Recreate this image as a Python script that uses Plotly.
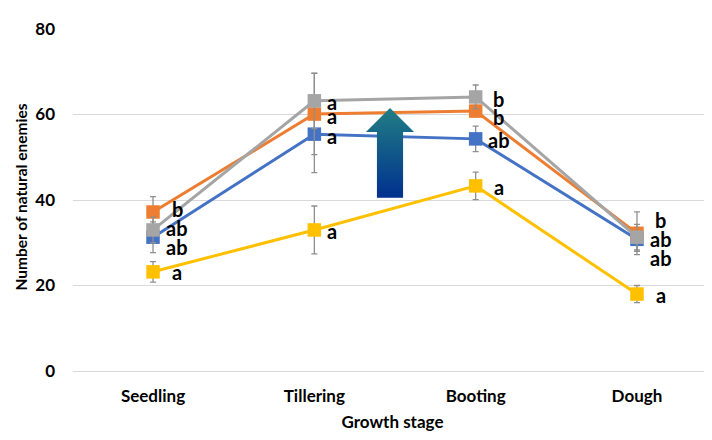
import plotly.graph_objects as go

stages = ["Seedling", "Tillering", "Booting", "Dough"]

blue_vals = [31.3, 55.4, 54.3, 30.8]
orange_vals = [37.2, 60.1, 60.8, 32.2]
gray_vals = [33.0, 63.2, 64.1, 31.3]
yellow_vals = [23.2, 33.0, 43.3, 18.0]

blue_err = [3.6, 9.0, 3.0, 2.8]
orange_err = [3.6, 9.5, 1.3, 5.0]
gray_err = [3.0, 6.5, 2.8, 3.0]
yellow_err = [2.4, 5.6, 3.2, 2.0]

blue_letters = ["ab", "a", "ab", "ab"]
orange_letters = ["b", "a", "b", "b"]
gray_letters = ["ab", "a", "b", "ab"]
yellow_letters = ["a", "a", "a", "a"]

y_ticks = [0, 20, 40, 60, 80]

# label offsets in pixels (style)
blue_shift = [-10, -2, -1, -19]
orange_shift = [3, -2, -6, 13]
gray_shift = [2, -1, -2, -2]
yellow_shift = [0, -1, -1, -1]
x_shift = [24, 18, 23, 24]

xs = list(range(len(stages)))

FONT = "Lato"
ERR_COLOR = "#8f8f8f"

W, H = 704, 432
ML, MR, MT, MB = 65, 0, 21, 69

fig = go.Figure()

def add_series(vals, err, color):
    fig.add_trace(go.Scatter(
        x=xs, y=vals, mode="lines+markers",
        line=dict(color=color, width=3),
        marker=dict(symbol="square", size=13.5, color=color),
        error_y=dict(type="data", array=err, visible=True, color=ERR_COLOR,
                     thickness=1.3, width=3),
        cliponaxis=False, showlegend=False, hoverinfo="skip",
    ))

add_series(blue_vals, blue_err, "#4472C4")
add_series(orange_vals, orange_err, "#ED7D31")
add_series(gray_vals, gray_err, "#A5A5A5")
add_series(yellow_vals, yellow_err, "#FFC000")

# gradient arrow (decorative)
arrow_x = [1.388, 1.388, 1.32, 1.469, 1.618, 1.55, 1.55, 1.388]
arrow_y = [40.5, 55.9, 55.9, 61.5, 55.9, 55.9, 40.5, 40.5]
fig.add_trace(go.Scatter(
    x=arrow_x, y=arrow_y, mode="lines", fill="toself",
    line=dict(width=0, color="rgba(0,0,0,0)"),
    fillgradient=dict(type="vertical",
                      colorscale=[[0, "#00308F"], [1, "#217E84"]],
                      start=40.5, stop=61.5),
    showlegend=False, hoverinfo="skip",
))

annotations = []
for vals, letters, shifts in [
    (blue_vals, blue_letters, blue_shift),
    (orange_vals, orange_letters, orange_shift),
    (gray_vals, gray_letters, gray_shift),
    (yellow_vals, yellow_letters, yellow_shift),
]:
    for i, (v, t, s) in enumerate(zip(vals, letters, shifts)):
        annotations.append(dict(
            x=i, y=v, xref="x", yref="y", text=t, showarrow=False,
            xanchor="center", yanchor="middle", xshift=x_shift[i], yshift=s,
            font=dict(family=FONT, size=20, color="black", weight="bold"),
        ))

annotations.append(dict(
    x=(12 - ML) / (W - ML - MR), y=(H - MB - 189.5) / (H - MT - MB),
    xref="paper", yref="paper", text="Number of natural enemies",
    showarrow=False, textangle=-90, xanchor="center", yanchor="middle",
    font=dict(family=FONT, size=15.5, color="black", weight="bold"),
))

fig.update_layout(
    width=W, height=H,
    margin=dict(l=ML, r=MR, t=MT, b=MB),
    paper_bgcolor="white", plot_bgcolor="white",
    annotations=annotations,
    xaxis=dict(
        range=[-0.496, 3.465], tickvals=xs, ticktext=stages,
        showgrid=False, zeroline=False, showline=False,
        tickfont=dict(family=FONT, size=17, color="black", weight="bold"),
        ticklabelstandoff=13,
        title=dict(text="Growth stage", standoff=11,
                   font=dict(family=FONT, size=17, color="black", weight="bold")),
    ),
    yaxis=dict(
        range=[0, 80], tickvals=y_ticks,
        showgrid=True, gridcolor="#D9D9D9", gridwidth=1,
        zeroline=True, zerolinecolor="#D9D9D9", zerolinewidth=1,
        showline=False,
        tickfont=dict(family=FONT, size=17, color="black", weight="bold"),
        ticklabelstandoff=17,
    ),
)

fig.write_html("out.html")
